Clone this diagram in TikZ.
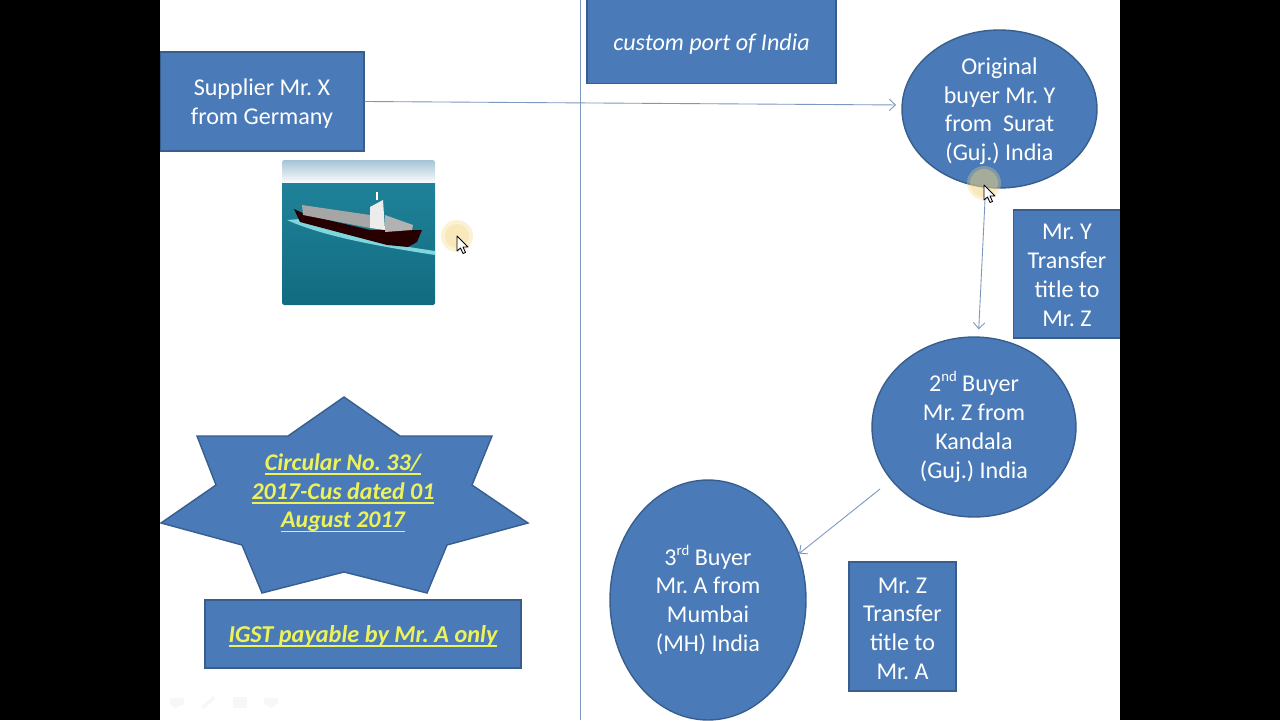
\documentclass[tikz,border=0pt]{standalone}
\usepackage{fontspec}
\setmainfont{Carlito}
\usetikzlibrary{arrows.meta,shapes.geometric}
\frenchspacing
\definecolor{boxfill}{HTML}{4A7BB8}
\definecolor{boxline}{HTML}{385E8E}
\definecolor{arrowline}{HTML}{7C98BE}
\definecolor{noteyellow}{HTML}{EEF25A}
\definecolor{skytop}{HTML}{A4C4D6}
\definecolor{seatop}{HTML}{1F8299}
\definecolor{seabottom}{HTML}{126B80}
\definecolor{wakeblue}{HTML}{7FD6DC}
\definecolor{halocolor}{HTML}{F5D880}
\newcommand{\nudge}[1]{\rule{0pt}{#1}}
\newcommand{\ordmark}[1]{\raisebox{0.85ex}{\fontsize{8.4}{8.4}\selectfont #1}}
\newcommand{\noteline}[1]{\setbox0=\hbox{#1}\leavevmode\rlap{\rule[-2.6pt]{\wd0}{0.9pt}}\box0}
\tikzset{
  boxnode/.style={draw=boxline, line width=0.8pt, fill=boxfill, text=white, align=center, inner sep=0pt, font=\fontsize{13.7}{16.4}\selectfont},
  roundnode/.style={boxnode, ellipse},
  notetext/.style={text=noteyellow, align=center, inner sep=0pt, font=\fontsize{13.6}{16.4}\selectfont\bfseries\itshape},
  flow/.style={draw=arrowline, line width=0.5pt, -{Straight Barb[length=3.5pt,width=6.5pt]}},
  pointer/.style={draw=black, fill=white, line width=0.5pt, line join=round},
  halo/.style={fill=halocolor, opacity=0.32},
  faintmark/.style={fill=black!3}
}
\begin{document}
\begin{tikzpicture}[x=0.02cm,y=-0.02cm]
    \useasboundingbox (0,0) rectangle (1280,720);
    \fill[white] (0,0) rectangle (1280,720);

    % divider
    \draw[arrowline, line width=0.7pt] (580.5,0) -- (580.5,720);

    % boxes
    \node[boxnode, minimum width=4.08cm, minimum height=1.98cm] (supplier) at (262,101.5) {\nudge{12pt}Supplier Mr. X\\from Germany};
    \node[boxnode, minimum width=4.98cm, minimum height=1.70cm, font=\fontsize{13.7}{16.4}\selectfont\itshape] (port) at (711.5,41) {\nudge{13.4pt}custom port of India};
    \node[roundnode, minimum width=3.90cm, minimum height=3.16cm] (origbuyer) at (999.5,109) {\nudge{12pt}Original\\buyer Mr. Y\\from\ \ Surat\\(Guj.) India};
    \node[boxnode, minimum width=2.14cm, minimum height=2.56cm] (transfery) at (1067,274) {\nudge{10.4pt}Mr. Y\\Transfer\\title to\\Mr. Z};
    \node[roundnode, minimum width=4.08cm, minimum height=3.60cm] (secondbuyer) at (974,427) {\nudge{10.6pt}2\ordmark{nd} Buyer\\Mr. Z from\\Kandala\\(Guj.) India};
    \node[roundnode, minimum width=3.92cm, minimum height=4.80cm] (thirdbuyer) at (708,600) {\nudge{10.6pt}3\ordmark{rd} Buyer\\Mr. A from\\Mumbai\\(MH) India};
    \node[boxnode, minimum width=2.14cm, minimum height=2.58cm] (transferz) at (902.5,626.5) {\nudge{11.3pt}Mr. Z\\Transfer\\title to\\Mr. A};
    \node[boxnode, minimum width=6.32cm, minimum height=1.36cm, text=noteyellow, font=\fontsize{13.8}{16.4}\selectfont\bfseries\itshape] (igst) at (363,634) {\nudge{12.2pt}\noteline{IGST payable by Mr. A only}};

    % circular star
    \draw[boxline, line width=0.8pt, fill=boxfill] (344,397) -- (400,436) -- (492,436) -- (472,485) -- (528,523) -- (447,545) -- (427,593) -- (344,572) -- (262,593) -- (242,545) -- (161,523) -- (216,485) -- (197,436) -- (288,436) -- cycle;
    \node[notetext] (circular) at (343,493) {\noteline{Circular No. 33/}\\\noteline{2017-Cus dated 01}\\\noteline{August 2017}};

    % connectors
    \coordinate (zstart) at (880,489);
    \draw[flow, shorten >=3pt] (supplier.east) -- (origbuyer.west |- 0,105);
    \draw[flow] (origbuyer.260) -- ([yshift=4pt]secondbuyer.87);
    \draw[flow] (zstart) -- (thirdbuyer.27);

    % ship picture
    \begin{scope}
      \clip[rounded corners=1pt] (282,160) rectangle (435,305);
      \shade[top color=skytop, bottom color=white] (282,160) rectangle (435,184);
      \shade[top color=seatop, bottom color=seabottom] (282,183) rectangle (435,305);
      \fill[wakeblue] (287,220) .. controls (320,235) and (370,245) .. (435,255) -- (435,251) .. controls (380,243) and (340,235) .. (300,219) -- cycle;
      \fill[black!85!red] (294,209) -- (307,215) -- (370,230) -- (422,230) -- (417,242) -- (408,247) -- (387,245) -- (300,222) -- cycle;
      \fill[gray!70] (302,205) -- (370,215) -- (370,228) -- (303,215) -- cycle;
      \fill[gray!60] (385,215) -- (413,225) -- (412,230) -- (385,232) -- cycle;
      \fill[gray!15] (370,207) -- (383,200) -- (385,230) -- (370,228) -- cycle;
      \draw[white, line width=0.8pt] (377,192) -- (377,200);
    \end{scope}

    % slide controls
    \fill[faintmark] (170,698) -- (184,698) -- (184,704) -- (175,708) -- (170,704) -- cycle;
    \fill[faintmark] (201,707) -- (213,696) -- (216,698) -- (204,709) -- cycle;
    \fill[faintmark] (233,697) -- (247,697) -- (247,708) -- (233,708) -- cycle;
    \fill[faintmark] (264,698) -- (278,698) -- (278,703) -- (272,708) -- (264,704) -- cycle;

    % mouse pointers
    \fill[halo] (457,236) circle (16);
    \fill[halo] (457,236) circle (12);
    \fill[halo] (984,183) circle (17);
    \fill[halo] (984,183) circle (14);
    \draw[pointer] (457,236) -- (457,251) -- (460.5,248) -- (463,253.5) -- (465.5,252.5) -- (463,247) -- (468,247) -- cycle;
    \draw[pointer] (984,185) -- (984,200) -- (987.5,197) -- (990,202.5) -- (992.5,201.5) -- (990,196) -- (995,196) -- cycle;

    % black bars
    \fill[black] (0,0) rectangle (160,720);
    \fill[black] (1120,0) rectangle (1280,720);
\end{tikzpicture}
\end{document}
